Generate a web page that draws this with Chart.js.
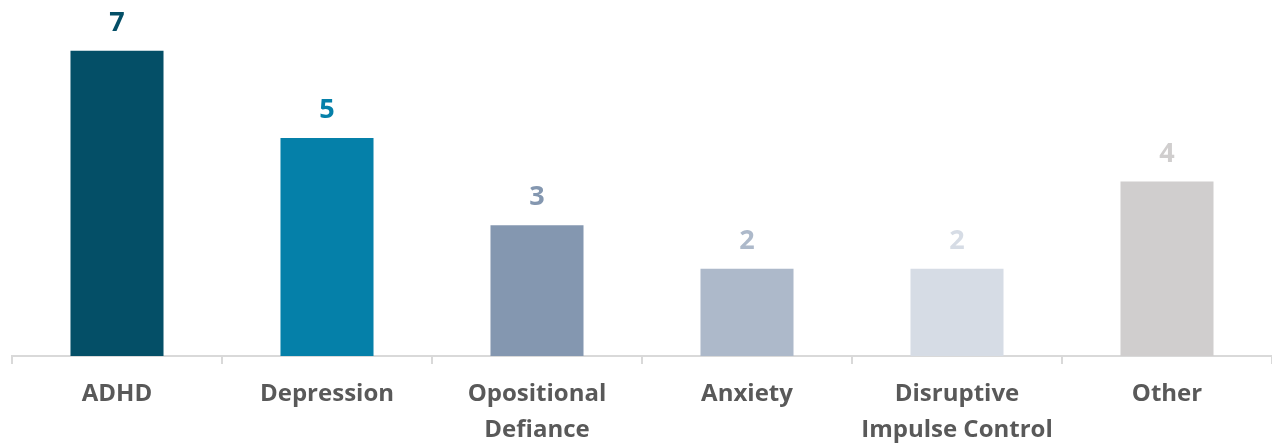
<!DOCTYPE html>
<html>
<head>
<meta charset="utf-8">
<script src="https://cdn.jsdelivr.net/npm/chart.js@4/dist/chart.umd.min.js"></script>
<style>
  html, body { margin: 0; padding: 0; background: #fff; }
  #wrap { width: 1272px; height: 445px; }
</style>
</head>
<body>
<div id="wrap"><canvas id="barChart"></canvas></div>
<script>
const categories = ['ADHD', 'Depression', ['Opositional', 'Defiance'], 'Anxiety', ['Disruptive', 'Impulse Control'], 'Other'];
const counts = [7, 5, 3, 2, 2, 4];
const barColors = ['#044F67', '#0580A9', '#8497B0', '#ADB9CA', '#D6DCE5', '#D0CECE'];

// draws the value above each bar in the bar's colour
const valueLabels = {
    id: 'valueLabels',
    afterDatasetsDraw(chart) {
        const ctx = chart.ctx;
        const meta = chart.getDatasetMeta(0);
        ctx.save();
        ctx.font = 'bold 27px "Open Sans"';
        ctx.textAlign = 'center';
        ctx.textBaseline = 'alphabetic';
        meta.data.forEach((bar, i) => {
            ctx.fillStyle = barColors[i];
            ctx.fillText(String(counts[i]), bar.x, bar.y - 20);
        });
        ctx.restore();
    }
};

new Chart(document.getElementById('barChart'), {
    type: 'bar',
    data: {
        labels: categories,
        datasets: [{
            data: counts,
            backgroundColor: barColors,
            barPercentage: 0.443,
            categoryPercentage: 1
        }]
    },
    options: {
        responsive: true,
        maintainAspectRatio: false,
        animation: false,
        layout: { padding: { top: 7, left: 12, right: 0, bottom: 0 } },
        plugins: {
            legend: { display: false },
            tooltip: { enabled: false }
        },
        scales: {
            y: {
                display: false,
                min: 0,
                max: 8
            },
            x: {
                afterFit: (axis) => { axis.height = 89; },
                border: { display: true, color: '#D9D9D9', width: 2 },
                grid: {
                    drawOnChartArea: false,
                    drawTicks: true,
                    tickLength: 8,
                    color: '#D9D9D9',
                    lineWidth: 2
                },
                ticks: {
                    color: '#595959',
                    padding: 12,
                    maxRotation: 0,
                    font: { family: 'Open Sans', size: 24, weight: 'bold', lineHeight: 1.5 }
                }
            }
        }
    },
    plugins: [valueLabels]
});
</script>
</body>
</html>
